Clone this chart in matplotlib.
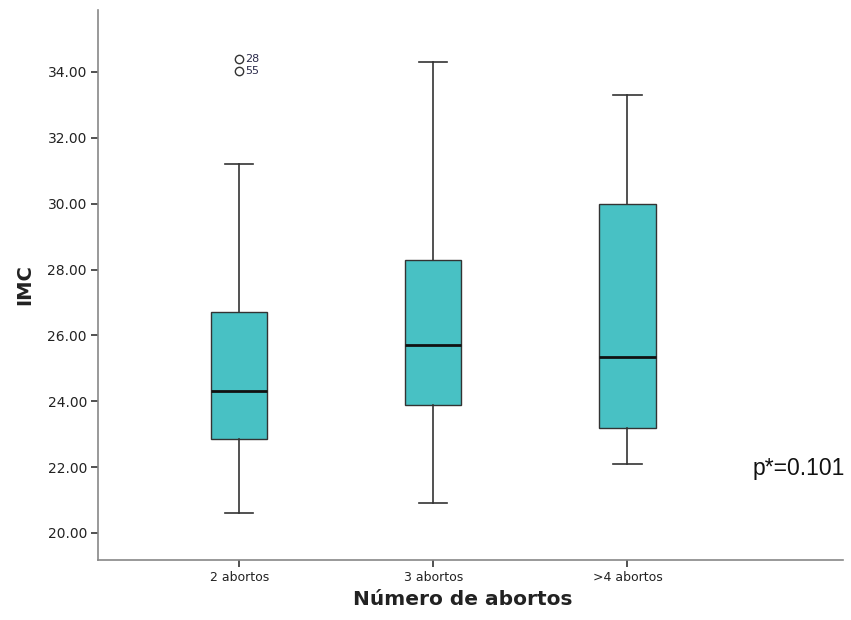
import matplotlib
matplotlib.use("Agg")
import matplotlib.pyplot as plt

categories = ["2 abortos", "3 abortos", ">4 abortos"]
whislo = [20.6, 20.9, 22.1]
q1 = [22.85, 23.9, 23.2]
med = [24.3, 25.7, 25.35]
q3 = [26.7, 28.3, 30.0]
whishi = [31.2, 34.3, 33.3]
outliers = [[34.4, 34.03], [], []]
outlier_ids = [["28", "55"], [], []]
yticks = [20, 22, 24, 26, 28, 30, 32, 34]

fig = plt.figure(figsize=(8.51, 6.2), dpi=100)
ax = fig.add_axes([0.1152, 0.0968, 0.8754, 0.8871])

stats = []
for i, c in enumerate(categories):
    stats.append(dict(label=c, whislo=whislo[i], q1=q1[i], med=med[i],
                      q3=q3[i], whishi=whishi[i], fliers=outliers[i]))

edge = "#333333"
ax.bxp(stats, positions=range(len(categories)), widths=0.29, patch_artist=True,
       showfliers=True,
       boxprops=dict(facecolor="#48C1C4", edgecolor=edge, linewidth=1.0),
       medianprops=dict(color="#111111", linewidth=2.0),
       whiskerprops=dict(color=edge, linewidth=1.2),
       capprops=dict(color=edge, linewidth=1.2),
       capwidths=0.145,
       flierprops=dict(marker="o", markerfacecolor="none", markeredgecolor="#333333",
                       markersize=6, markeredgewidth=1.0, linestyle="none"))

for i, ids in enumerate(outlier_ids):
    for v, t in zip(outliers[i], ids):
        ax.annotate(t, (i, v), xytext=(4, 0), textcoords="offset points",
                    fontsize=8, color="#2a2a4a", va="center", ha="left")

ax.set_xlim(-0.727, 3.11)
ax.set_ylim(19.18, 35.88)
ax.set_yticks(yticks)
ax.set_yticklabels([f"{v:.2f}" for v in yticks])
ax.set_xticks(range(len(categories)))
ax.set_xticklabels(categories)

for s in ["top", "right"]:
    ax.spines[s].set_visible(False)
for s in ["left", "bottom"]:
    ax.spines[s].set_color("#888888")
    ax.spines[s].set_linewidth(1.2)

ax.tick_params(axis="both", direction="out", length=5, width=1.2, color="#333333",
               labelcolor="#222222", pad=3)
ax.tick_params(axis="y", labelsize=10)
ax.tick_params(axis="x", labelsize=9)
for lab in ax.get_yticklabels():
    lab.set_fontweight("medium")

ax.set_xlabel("Número de abortos", fontsize=14.5, fontweight="bold", color="#222222", labelpad=4)
ax.xaxis.set_label_coords(0.489, -0.055)
ax.set_ylabel("IMC", fontsize=14, fontweight="bold", color="#222222", labelpad=10)
ax.yaxis.set_label_coords(-0.098 + 0.013, 0.5)

ax.text(2.644, 21.95, "p*=0.101", fontsize=16.5, family="Liberation Sans",
        ha="left", va="center", color="#111111")

fig.savefig("out.png", dpi=100)
